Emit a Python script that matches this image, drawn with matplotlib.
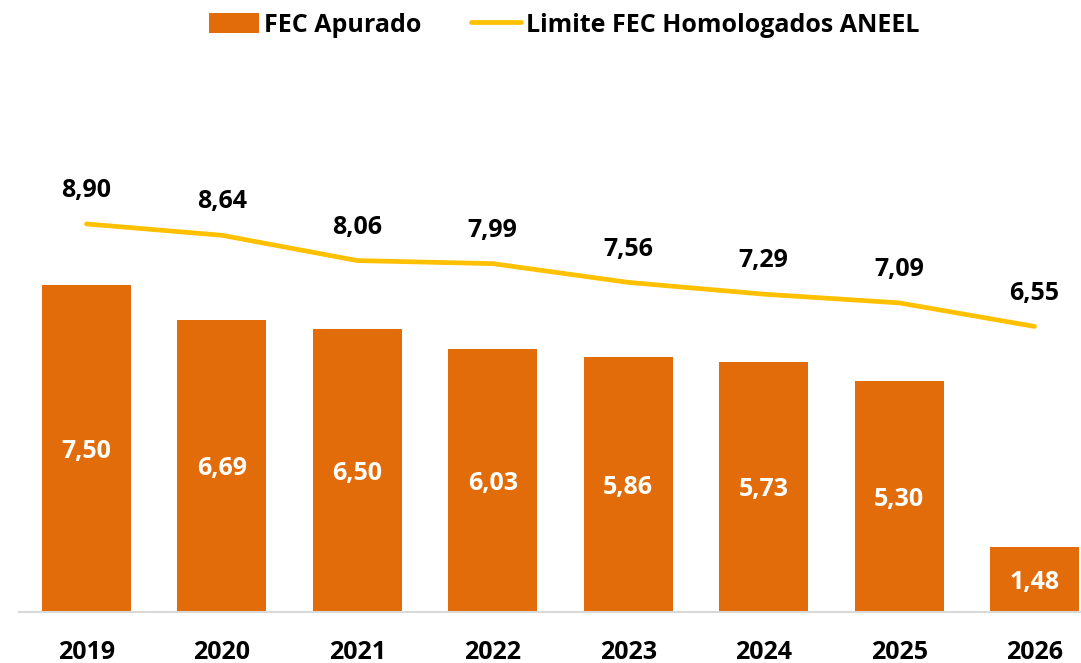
import matplotlib
matplotlib.use("Agg")
import matplotlib.pyplot as plt
import numpy as np

plt.rcParams.update({
    "font.family": ["Open Sans", "DejaVu Sans"],
    "font.weight": "bold",
    "font.size": 18,
})

# dados
anos = ["2019", "2020", "2021", "2022", "2023", "2024", "2025", "2026"]
fec_apurado = [7.50, 6.69, 6.50, 6.03, 5.86, 5.73, 5.30, 1.48]
fec_limite = [8.90, 8.64, 8.06, 7.99, 7.56, 7.29, 7.09, 6.55]

COR_BARRA = "#E36C0A"
COR_LINHA = "#FFC000"

def fmt(v):
    return f"{v:.2f}".replace(".", ",")

fig = plt.figure(figsize=(10.81, 6.63), dpi=100)
ax = fig.add_axes([18.8 / 1081, 51 / 663, 1 - 18.8 / 1081, 523.2 / 663])

x = np.arange(len(anos))
bars = ax.bar(x, fec_apurado, width=0.657, color=COR_BARRA, label="FEC Apurado", zorder=2)
line, = ax.plot(x, fec_limite, color=COR_LINHA, lw=3.4, solid_capstyle="round",
                solid_joinstyle="round", label="Limite FEC Homologados ANEEL", zorder=3)

# rótulos das barras (centro) e da linha (acima)
for xi, v in zip(x, fec_apurado):
    ax.annotate(fmt(v), (xi, v / 2), xytext=(0, -2), textcoords="offset points",
                ha="center", va="center", color="white", fontsize=18, fontweight="bold")
for xi, v in zip(x, fec_limite):
    ax.annotate(fmt(v), (xi, v), xytext=(0, 24), textcoords="offset points",
                ha="center", va="center", color="black", fontsize=18, fontweight="bold")

ax.set_xlim(-0.5, 7 + (1081 - 1034.5) / 135.43)
ax.set_ylim(0, 12)
ax.set_xticks(x)
ax.set_xticklabels(anos, fontsize=18, fontweight="bold")
ax.tick_params(axis="x", length=0, pad=20)
ax.set_yticks([])
for s in ["top", "right", "left"]:
    ax.spines[s].set_visible(False)
ax.spines["bottom"].set_color("#D9D9D9")
ax.spines["bottom"].set_linewidth(1.5)

fig.legend(handles=[bars, line], loc="center", bbox_to_anchor=(564 / 1081, 1 - 25 / 663),
           ncol=2, frameon=False, fontsize=18, handlelength=2.0, handleheight=0.9,
           handletextpad=0.2, columnspacing=2.0)

fig.savefig("out.png", dpi=100)
